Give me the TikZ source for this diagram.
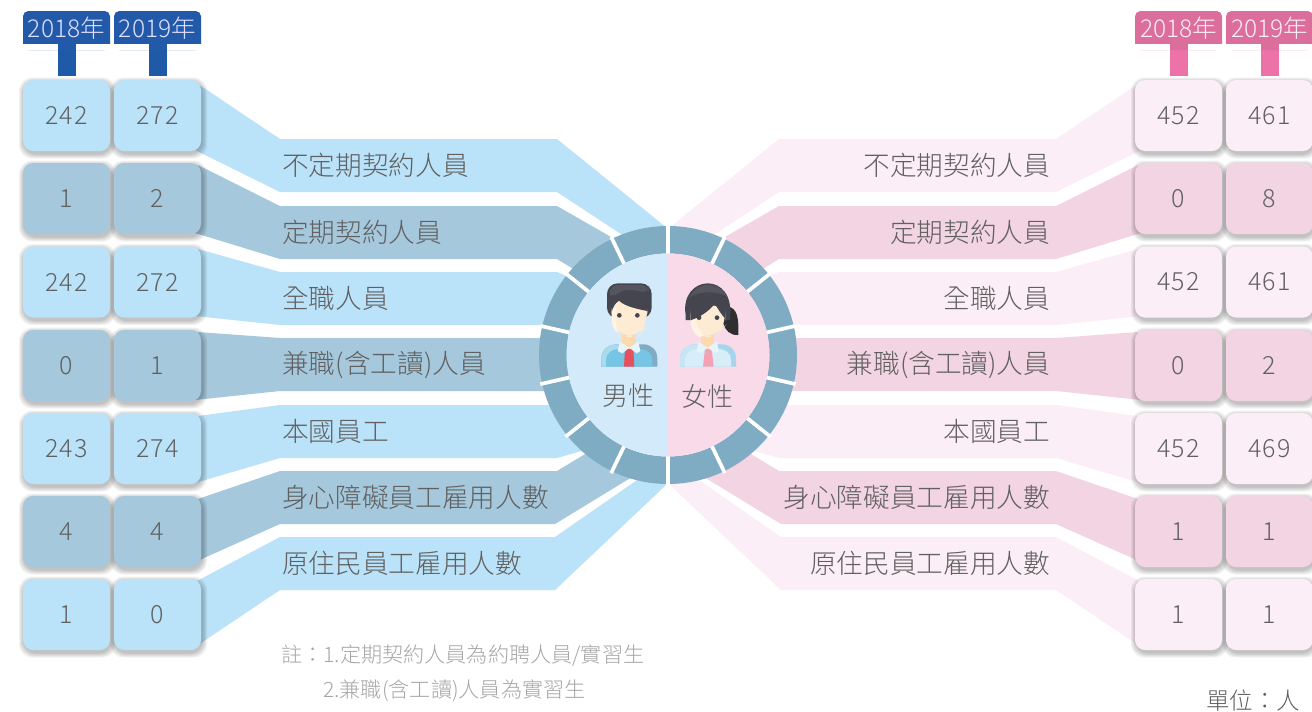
\documentclass[tikz,border=0pt]{standalone}
\usepackage{fontspec}
\setmainfont{Noto Sans CJK TC Light}
\definecolor{bluelt}{HTML}{BAE2F9}
\definecolor{bluedk}{HTML}{A5C8DC}
\definecolor{pinklt}{HTML}{FCEEF6}
\definecolor{pinkdk}{HTML}{F2D4E2}
\definecolor{ringc}{HTML}{7FABC3}
\definecolor{discb}{HTML}{D2EAFA}
\definecolor{discp}{HTML}{F8DAE8}
\definecolor{headb}{HTML}{2259A8}
\definecolor{stemb}{HTML}{1F5AA8}
\definecolor{headp}{HTML}{DC6E9E}
\definecolor{stemp}{HTML}{EC72A8}
\definecolor{txt}{HTML}{606060}
\definecolor{hairc}{HTML}{45454F}
\definecolor{hairl}{HTML}{55555F}
\definecolor{facec}{HTML}{FDEBD3}
\definecolor{facel}{HTML}{FFF3E4}
\definecolor{neckc}{HTML}{FDD9AE}
\definecolor{collar}{HTML}{E6F4FB}
\definecolor{shirtm}{HTML}{76C5E5}
\definecolor{shirto}{HTML}{A9DAEE}
\definecolor{tiem}{HTML}{E8505F}
\definecolor{tiew}{HTML}{F4A0B5}
\definecolor{shirtw}{HTML}{C6E6F5}
\definecolor{shirtn}{HTML}{A5D5EC}
\tikzset{
  cellbox/.style={rounded corners=7.5pt,minimum width=65.25pt,minimum height=53.25pt,inner sep=0pt,text=txt,font=\fontsize{18.75}{20}\selectfont\addfontfeature{LetterSpace=5}},
  headtext/.style={inner sep=0pt,font=\fontsize{18.4}{20}\selectfont},
  labeltext/.style={inner sep=0pt,text=txt,font=\fontsize{20}{22}\selectfont},
  notetext/.style={inner sep=0pt,anchor=west,text=black!35,font=\fontsize{15.85}{18}\selectfont},
  centertext/.style={inner sep=0pt,text=txt,font=\fontsize{19.5}{22}\selectfont},
}
% shadow of one cell, soft layers slightly offset
\newcommand\cellshadow[2]{%
  \foreach \gr in {5,4,3,2,1}{%
    \fill[black,opacity=0.05,rounded corners=10pt]
      (#1-43.5-\gr+1,#2-35.5-\gr+2.5) rectangle (#1+43.5+\gr+1,#2+35.5+\gr+2.5);
  }}
\newcommand\allbands[2]{%
  \fill[#1] (198,84) -- (280,139) -- (557,139) -- (667,228) -- (630,240) -- (557,192) -- (280,192) -- (195,150) -- cycle;
  \fill[#2] (198,165) -- (280,206) -- (557,206) -- (625,245) -- (600,285) -- (557,259) -- (280,259) -- (195,233) -- cycle;
  \fill[#1] (198,249) -- (280,272) -- (557,272) -- (600,290) -- (580,325) -- (280,325) -- (195,316) -- cycle;
  \fill[#2] (198,332) -- (280,338) -- (570,338) -- (570,391) -- (280,391) -- (195,400) -- cycle;
  \fill[#1] (198,416) -- (280,405) -- (570,405) -- (600,420) -- (585,450) -- (557,458) -- (280,458) -- (195,483) -- cycle;
  \fill[#2] (195,500) -- (280,471) -- (557,471) -- (600,445) -- (632,477) -- (555,524) -- (280,524) -- (195,562) -- cycle;
  \fill[#1] (195,582) -- (280,537) -- (555,537) -- (640,478) -- (667,484) -- (555,590) -- (280,590) -- (195,647) -- cycle;
}
\begin{document}
\begin{tikzpicture}[x=0.75pt,y=-0.75pt]
\useasboundingbox (0,0) rectangle (1312,711);
\fill[white] (0,0) rectangle (1312,711);
% bands
\allbands{bluelt}{bluedk}
\begin{scope}[shift={(1336,0)},xscale=-1]
\allbands{pinklt}{pinkdk}
\end{scope}
% year headers
\foreach \nm/\cx/\hc/\sc/\tc/\yr in {la/66.5/headb/stemb/white!88!blue/2018年,lb/157.5/headb/stemb/white!88!blue/2019年,ra/1178.5/headp/stemp/pinklt/2018年,rb/1269.5/headp/stemp/pinklt/2019年}{
  \fill[\sc] (\cx-9,44) rectangle (\cx+9,76);
  \fill[\hc,rounded corners=4pt] (\cx-43.5,50) -- (\cx-43.5,11) -- (\cx+43.5,11) -- (\cx+43.5,50) -- cycle;
  \fill[\hc] (\cx-43.5,30) rectangle (\cx+43.5,44);
  \fill[white] (\cx-44,44) rectangle (\cx-9,50);
  \fill[white] (\cx+9,44) rectangle (\cx+44,50);
  \node[headtext,text=\tc] (head\nm) at (\cx,28.5) {\yr};
}
% cell shadows
\foreach \cy in {115.5,198.5,282,365.5,448.5,531.5,614.5}{
  \foreach \cx in {66.5,157.5,1178.5,1269.5}{\cellshadow{\cx}{\cy}}
}
% cells
\foreach \i/\cy/\cl/\cr/\pa/\pb/\qa/\qb in {
  1/115.5/bluelt/pinklt/242/272/452/461,
  2/198.5/bluedk/pinkdk/1/2/0/8,
  3/282/bluelt/pinklt/242/272/452/461,
  4/365.5/bluedk/pinkdk/0/1/0/2,
  5/448.5/bluelt/pinklt/243/274/452/469,
  6/531.5/bluedk/pinkdk/4/4/1/1,
  7/614.5/bluelt/pinklt/1/0/1/1}{
  \node[cellbox,fill=\cl] (la\i) at (66.5,\cy) {\raisebox{-0.75pt}{\pa}};
  \node[cellbox,fill=\cl] (lb\i) at (157.5,\cy) {\raisebox{-0.75pt}{\pb}};
  \node[cellbox,fill=\cr] (ra\i) at (1178.5,\cy) {\raisebox{-0.75pt}{\qa}};
  \node[cellbox,fill=\cr] (rb\i) at (1269.5,\cy) {\raisebox{-0.75pt}{\qb}};
}
% band labels
\foreach \i/\ly/\tx in {1/165.7/不定期契約人員,2/232.7/定期契約人員,3/298.7/全職人員,4/364.7/兼職(含工讀)人員,5/431.7/本國員工,6/497.7/身心障礙員工雇用人數,7/563.7/原住民員工雇用人數}{
  \node[labeltext,anchor=west] (ltext\i) at (282,\ly) {\tx};
  \node[labeltext,anchor=east] (rtext\i) at (1050.5,\ly) {\tx};
}
% centre disc and ring
\fill[ringc,even odd rule] (668,355) circle (129) (668,355) circle (101.5);
\foreach \k in {0,...,13}{
  \draw[white,line width=2.8pt] ({668+100*sin(\k*360/14)},{355+100*cos(\k*360/14)}) -- ({668+131*sin(\k*360/14)},{355+131*cos(\k*360/14)});
}
\fill[discb] (668,253.5) arc (90:270:101.5 and -101.5) -- cycle;
\fill[discp] (668,253.5) arc (90:-90:101.5 and -101.5) -- cycle;
% man
\begin{scope}[shift={(595,275)},x=0.25pt,y=-0.25pt]
  \fill[hairc,rounded corners=8pt] (36,130) -- (36,25) -- (170,25) -- (170,130) -- cycle;
  \fill[hairl,rounded corners=6pt] (44,75) -- (44,30) -- (162,30) -- (162,55) -- (105,42) -- (70,50) -- cycle;
  \fill[neckc] (82,170) rectangle (124,225);
  \fill[facec,rounded corners=12pt] (50,70) -- (157,70) -- (157,150) -- (130,186) -- (76,186) -- (50,150) -- cycle;
  \fill[facel] (50,100) -- (66,100) .. controls (60,125) and (60,140) .. (70,175) .. controls (55,165) and (50,150) .. (50,130) -- cycle;
  \fill[hairc] (50,110) .. controls (55,95) and (60,85) .. (68,72) .. controls (80,90) and (115,100) .. (157,108) -- (157,60) -- (50,60) -- cycle;
  \fill[hairc] (73,121) circle (7);
  \fill[hairc] (127,121) circle (7);
  \fill[ringc] (19,275) -- (19,250) .. controls (19,225) and (40,208) .. (62,208) -- (145,208) .. controls (168,208) and (187,225) .. (187,250) -- (187,275) -- cycle;
  \fill[shirto] (19,275) -- (19,250) .. controls (19,225) and (40,208) .. (62,208) -- (130,208) -- (130,275) -- cycle;
  \fill[shirtm] (33,275) -- (33,255) .. controls (33,235) and (50,222) .. (72,222) -- (135,222) .. controls (155,222) and (172,235) .. (172,255) -- (172,275) -- cycle;
  \fill[neckc] (82,205) rectangle (124,225);
  \fill[tiem] (90,222) -- (115,222) -- (118,275) -- (87,275) -- cycle;
  \fill[collar] (75,200) -- (103,218) -- (82,235) -- (68,228) -- cycle;
  \fill[collar] (130,200) -- (103,218) -- (125,235) -- (136,228) -- cycle;
\end{scope}
% woman
\begin{scope}[shift={(595,275)},x=0.25pt,y=-0.25pt]
  \fill[black!82] (400,95) .. controls (425,100) and (432,125) .. (430,180) .. controls (405,182) and (390,165) .. (385,145) -- cycle;
  \fill[hairc] (272,120) .. controls (262,60) and (300,25) .. (338,25) .. controls (378,25) and (412,60) .. (405,125) -- (405,135) -- (272,135) -- cycle;
  \fill[hairl] (282,70) .. controls (295,42) and (315,30) .. (338,30) .. controls (365,30) and (385,42) .. (395,65) .. controls (375,48) and (305,45) .. (282,70) -- cycle;
  \fill[neckc] (318,170) rectangle (358,225);
  \fill[facec,rounded corners=12pt] (286,90) -- (392,90) -- (392,150) -- (365,186) -- (312,186) -- (286,150) -- cycle;
  \fill[facel] (286,120) -- (300,120) .. controls (300,145) and (310,165) .. (330,182) -- (312,186) .. controls (295,175) and (286,155) .. (286,130) -- cycle;
  \fill[hairc] (286,136) .. controls (320,125) and (345,105) .. (360,85) .. controls (370,105) and (380,120) .. (392,132) -- (392,80) -- (286,80) -- cycle;
  \fill[shirtn] (255,275) -- (255,250) .. controls (255,225) and (276,208) .. (298,208) -- (380,208) .. controls (404,208) and (423,225) .. (423,250) -- (423,275) -- cycle;
  \fill[shirtw] (255,275) -- (255,250) .. controls (255,225) and (276,208) .. (298,208) -- (340,208) -- (340,275) -- cycle;
  \fill[shirtw!70!white] (270,275) -- (270,255) .. controls (270,235) and (288,222) .. (308,222) -- (370,222) .. controls (392,222) and (408,235) .. (408,255) -- (408,275) -- cycle;
  \fill[neckc] (318,205) rectangle (358,225);
  \fill[tiew] (330,222) -- (350,222) -- (356,275) -- (324,275) -- cycle;
  \fill[collar] (310,200) -- (338,218) -- (317,235) -- (305,228) -- cycle;
  \fill[collar] (365,200) -- (338,218) -- (360,235) -- (372,228) -- cycle;
  \fill[hairc] (312,128) circle (7);
  \fill[hairc] (366,128) circle (7);
\end{scope}
\node[centertext] (mlabel) at (628,396) {男性};
\node[centertext] (flabel) at (707,396) {女性};
% notes
\node[notetext] (note1) at (281,655.5) {註：1.定期契約人員為約聘人員/實習生};
\node[notetext] (note2) at (323,690.5) {2.兼職(含工讀)人員為實習生};
\node[inner sep=0pt,anchor=east,text=txt,font=\fontsize{17.6}{20}\selectfont] (unit) at (1300.5,700.5) {單位：人};
\end{tikzpicture}
\end{document}
